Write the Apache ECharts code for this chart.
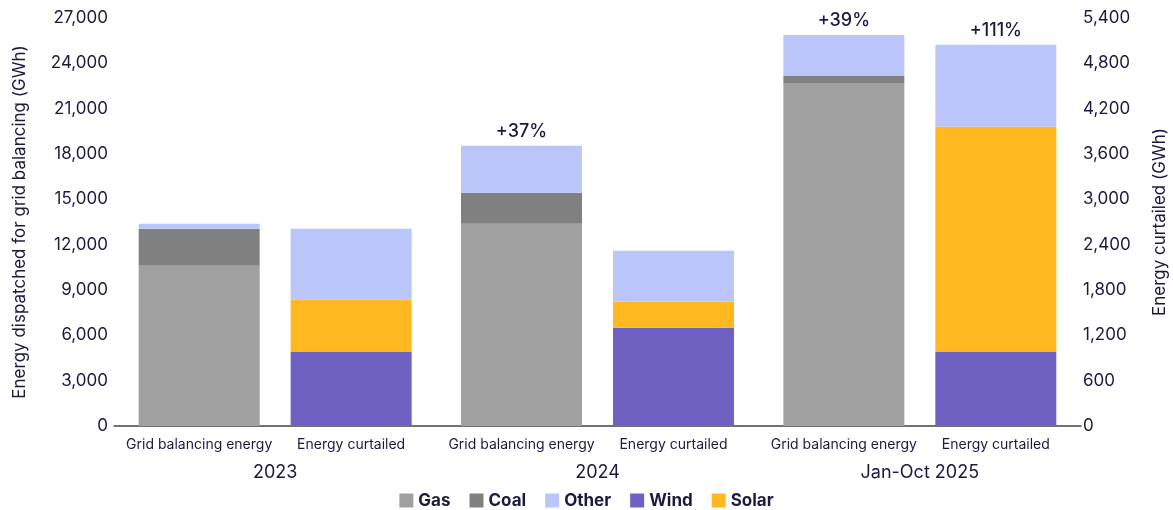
<!DOCTYPE html>
<html>
<head>
<meta charset="utf-8">
<script src="https://cdn.jsdelivr.net/npm/echarts@6/dist/echarts.min.js"></script>
<style>html,body{margin:0;padding:0;background:#fff}#c{width:1173px;height:510px}</style>
</head>
<body>
<div id="c"></div>
<script>
const years = ['2023', '2024', 'Jan-Oct 2025'];
const gas = [10600, 13380, 22700];
const coal = [2450, 2050, 460];
const otherGrid = [330, 3110, 2710];
const wind = [985, 1300, 985];
const solar = [687, 345, 2975];
const otherCurt = [939, 675, 1085];
const gridChange = ['', '+37%', '+39%'];
const curtChange = ['', '', '+111%'];
const subLabels = ['Grid balancing energy', 'Energy curtailed'];

const TXT = '#1b1a3e';
const FONT = 'Inter, "DejaVu Sans", sans-serif';
const C = {gas:'#a0a0a0', coal:'#808080', other:'#bac6f9', wind:'#6e61c1', solar:'#ffb81f'};
const fmt = v => String(v).replace(/\B(?=(\d{3})+(?!\d))/g, ',');

function bar(name, data, stack, axis, color, extra) {
  return Object.assign({
    name, type:'bar', data, stack, yAxisIndex: axis,
    barWidth: 121, barGap: '25.6%',
    itemStyle:{color}, emphasis:{disabled:true}
  }, extra || {});
}
const subLabel = (txt) => ({show:true, position:'bottom', distance:12, formatter: () => txt,
  color: TXT, fontSize: 14, fontFamily: FONT});
const topLabel = (arr) => ({show:true, position:'top', distance:5, formatter: p => arr[p.dataIndex],
  color: TXT, fontSize: 18, fontWeight: 500, fontFamily: FONT});

const chart = echarts.init(document.getElementById('c'));
chart.setOption({
  animation:false,
  textStyle:{fontFamily:FONT},
  grid:{left:114, right:92, top:18, bottom:84, outerBoundsMode:'none', containLabel:false},
  legend:{
    top:487, left:'center', itemWidth:14, itemHeight:14, itemGap:19,
    data:['Gas','Coal','Other','Wind','Solar'],
    textStyle:{color:TXT, fontSize:17, fontWeight:'bold', fontFamily:FONT},
    icon:'rect'
  },
  xAxis:{
    type:'category', data: years,
    axisLine:{show:true, lineStyle:{color:'#444', width:1.5}},
    axisTick:{show:false},
    axisLabel:{color:TXT, fontSize:18, margin:38, fontFamily:FONT}
  },
  yAxis:[
    {type:'value', min:0, max:27000, interval:3000,
     name:'Energy dispatched for grid balancing (GWh)', nameLocation:'middle', nameGap:86, nameRotate:90,
     nameTextStyle:{color:TXT, fontSize:17, fontFamily:FONT},
     splitLine:{show:false}, axisLine:{show:false}, axisTick:{show:false},
     axisLabel:{color:TXT, fontSize:17, margin:6, fontFamily:FONT, formatter: fmt}},
    {type:'value', min:0, max:5400, interval:600, position:'right',
     name:'Energy curtailed (GWh)', nameLocation:'middle', nameGap:70, nameRotate:90,
     nameTextStyle:{color:TXT, fontSize:17, fontFamily:FONT},
     splitLine:{show:false}, axisLine:{show:false}, axisTick:{show:false},
     axisLabel:{color:TXT, fontSize:17, margin:2, fontFamily:FONT, formatter: fmt}}
  ],
  series:[
    bar('Gas', gas, 'grid', 0, C.gas, {label: subLabel(subLabels[0])}),
    bar('Coal', coal, 'grid', 0, C.coal),
    bar('Other', otherGrid, 'grid', 0, C.other, {label: topLabel(gridChange)}),
    bar('Wind', wind, 'curt', 1, C.wind, {label: subLabel(subLabels[1])}),
    bar('Solar', solar, 'curt', 1, C.solar),
    bar('Other', otherCurt, 'curt', 1, C.other, {label: topLabel(curtChange)})
  ]
});
</script>
</body>
</html>
